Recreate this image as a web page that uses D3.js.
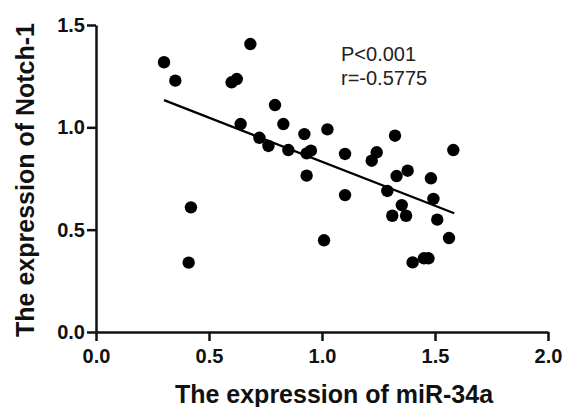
<!DOCTYPE html>
<html><head><meta charset="utf-8">
<script src="https://cdn.jsdelivr.net/npm/d3@7"></script>
<style>body{margin:0;background:#fff}svg{display:block}</style>
</head><body>
<script>
const mir34a = [0.301,0.351,0.600,0.623,0.683,0.792,0.640,0.829,0.723,0.763,0.851,0.922,0.932,0.951,1.024,0.932,1.102,1.323,1.242,1.220,1.581,1.330,1.379,1.482,1.102,1.289,1.353,1.311,1.372,1.493,1.510,1.562,1.009,1.401,1.451,1.471,0.420,0.410];
const notch1 = [1.318,1.228,1.220,1.236,1.407,1.109,1.016,1.016,0.949,0.909,0.889,0.967,0.873,0.886,0.990,0.764,0.870,0.959,0.878,0.837,0.889,0.762,0.788,0.751,0.669,0.689,0.620,0.568,0.568,0.650,0.549,0.459,0.448,0.340,0.360,0.360,0.609,0.339];
const fitX = [0.301, 1.585];
const fitY = [1.133, 0.580];
const xTicks = [0, 0.5, 1.0, 1.5, 2.0];
const yTicks = [0, 0.5, 1.0, 1.5];
const annotation = ["P<0.001", "r=-0.5775"];

const W = 565, H = 407;
const svg = d3.select("body").append("svg").attr("width", W).attr("height", H);
const font = "'Liberation Sans', Arial, sans-serif";
const x = d3.scaleLinear().domain([0, 2]).range([96, 548]);
const y = d3.scaleLinear().domain([0, 1.5]).range([332, 25]);

const xa = svg.append("g").attr("transform", `translate(0,${y(0)})`)
  .call(d3.axisBottom(x).tickValues(xTicks).tickFormat(d3.format(".1f")).tickSize(9).tickPadding(8).tickSizeOuter(0));
const ya = svg.append("g").attr("transform", `translate(${x(0)},0)`)
  .call(d3.axisLeft(y).tickValues(yTicks).tickFormat(d3.format(".1f")).tickSize(9).tickPadding(2).tickSizeOuter(0));
[xa, ya].forEach(g => {
  g.selectAll("path,line").attr("stroke", "#111").attr("stroke-width", 2.5);
  g.selectAll("text").attr("font-family", font).attr("font-weight", "bold").attr("font-size", 20).attr("fill", "#111");
});

svg.append("g").selectAll("circle").data(mir34a).join("circle")
  .attr("cx", d => x(d)).attr("cy", (d, i) => y(notch1[i])).attr("r", 6.2).attr("fill", "#000");

svg.append("line").attr("x1", x(fitX[0])).attr("y1", y(fitY[0]))
  .attr("x2", x(fitX[1])).attr("y2", y(fitY[1]))
  .attr("stroke", "#000").attr("stroke-width", 2.2);

svg.append("text").attr("x", 334).attr("y", 403).attr("text-anchor", "middle")
  .attr("font-family", font).attr("font-weight", "bold").attr("font-size", 25).attr("fill", "#111")
  .text("The expression of miR-34a");
svg.append("text").attr("transform", "translate(34,180) rotate(-90)").attr("text-anchor", "middle")
  .attr("font-family", font).attr("font-weight", "bold").attr("font-size", 25).attr("fill", "#111")
  .text("The expression of Notch-1");

svg.append("g").selectAll("text").data(annotation).join("text")
  .attr("x", 341).attr("y", (d, i) => 61 + i * 24)
  .attr("font-family", font).attr("font-size", 20).attr("fill", "#222").text(d => d);
</script>
</body></html>
